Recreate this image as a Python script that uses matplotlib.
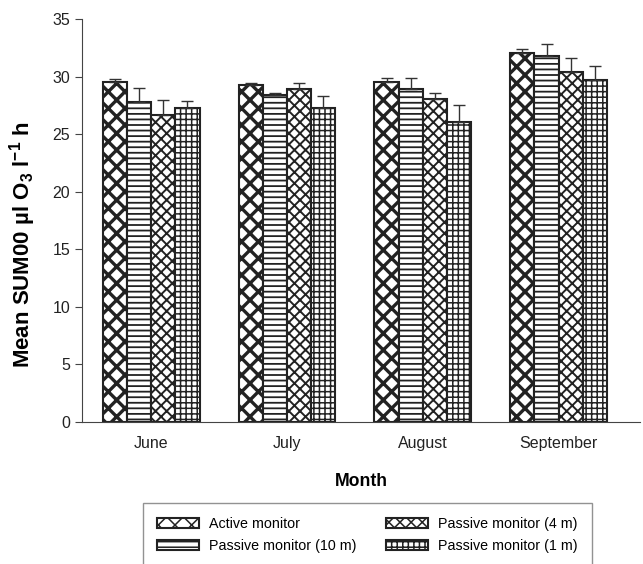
import numpy as np
import matplotlib
matplotlib.use("Agg")
import matplotlib.pyplot as plt

plt.rcParams["font.family"] = ["Liberation Sans", "DejaVu Sans"]
plt.rcParams["mathtext.fontset"] = "custom"
plt.rcParams["mathtext.rm"] = "Liberation Sans:bold"
plt.rcParams["mathtext.bf"] = "Liberation Sans:bold"

months = ["June", "July", "August", "September"]
series = ["Active monitor", "Passive monitor (10 m)",
          "Passive monitor (4 m)", "Passive monitor (1 m)"]

# mean values per series (June, July, August, September)
active = [29.5, 29.3, 29.5, 32.1]
passive_10m = [27.8, 28.4, 28.9, 31.8]
passive_4m = [26.7, 28.9, 28.1, 30.4]
passive_1m = [27.3, 27.3, 26.1, 29.7]

# upper error (SE)
err_active = [0.3, 0.15, 0.4, 0.3]
err_10m = [1.2, 0.2, 1.0, 1.0]
err_4m = [1.3, 0.55, 0.45, 1.2]
err_1m = [0.6, 1.0, 1.4, 1.2]

werte = [active, passive_10m, passive_4m, passive_1m]
fehler = [err_active, err_10m, err_4m, err_1m]
hatches = ["xx", "---", "xxx", "+++"]
hatch_lw = [2.4, 1.3, 1.4, 1.1]

fig = plt.figure(figsize=(6.43, 5.64), dpi=100)
ax = fig.add_axes([0.1275, 0.252, 0.868, 0.714])

x = np.arange(len(months))
w = 0.178
handles = []
for i in range(4):
    plt.rcParams["hatch.linewidth"] = hatch_lw[i]
    pos = x + (i - 1.5) * w
    b = ax.bar(pos, werte[i], w, color="white", edgecolor="#222222",
               linewidth=1.5, hatch=hatches[i], label=series[i], zorder=2)
    ax.errorbar(pos, werte[i], yerr=[np.zeros(4), fehler[i]], fmt="none",
                ecolor="#333333", elinewidth=1.0, capsize=4.5, capthick=1.0,
                zorder=3)
    handles.append(b)

ax.set_xlim(-0.51, 3.6)
ax.set_ylim(0, 35)
ax.set_yticks(range(0, 36, 5))
ax.set_xticks(x)
ax.set_xticklabels(months)
ax.tick_params(axis="both", labelsize=11.5, color="#444444", labelcolor="#222222")
ax.tick_params(axis="x", length=0, pad=10)
ax.tick_params(axis="y", length=5)
for s in ["top", "right"]:
    ax.spines[s].set_visible(False)
for s in ["left", "bottom"]:
    ax.spines[s].set_color("#444444")

ax.set_ylabel("Mean SUM00 µl O$_3$ l$^{-1}$ h", fontsize=16,
              fontweight="bold")
ax.yaxis.set_label_coords(-0.078, 0.44)
ax.set_xlabel("Month", fontsize=12.7, fontweight="bold", labelpad=16)

fig.legend(handles, series, ncol=2, loc="upper left",
           bbox_to_anchor=(0.222, 0.108), fontsize=10.3, frameon=True,
           fancybox=False, edgecolor="#777777", handlelength=2.9,
           handleheight=0.7, handletextpad=0.7, columnspacing=2.1,
           borderpad=1.0, labelspacing=0.5, borderaxespad=0)

fig.savefig("out.png", dpi=100)
